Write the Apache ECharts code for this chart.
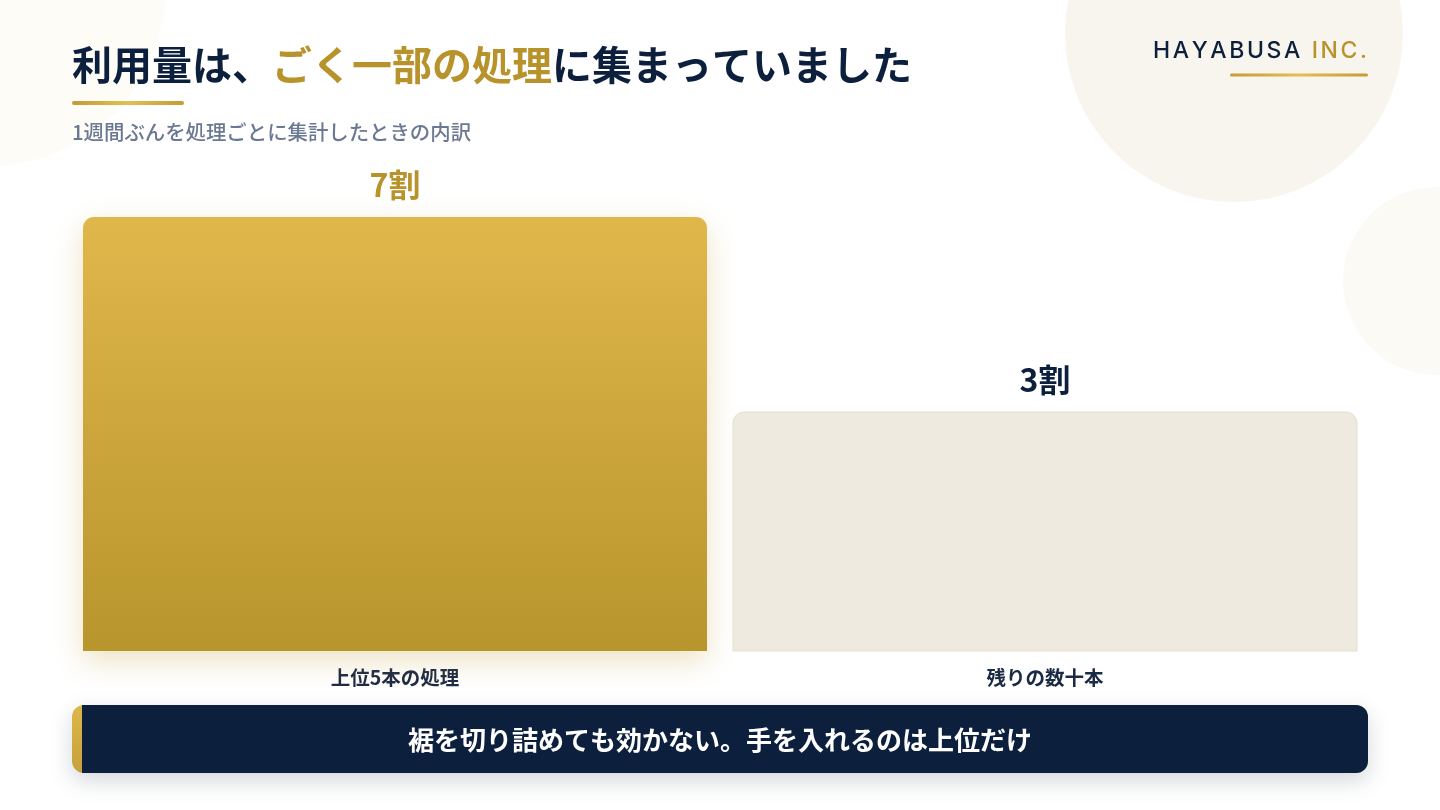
<!DOCTYPE html>
<html lang="ja">
<head>
<meta charset="utf-8">
<title>利用量の内訳</title>
<script src="https://cdn.jsdelivr.net/npm/echarts@6/dist/echarts.min.js"></script>
<style>
  html, body { margin: 0; padding: 0; background: #ffffff; }
  #chart { width: 1440px; height: 810px; }
</style>
</head>
<body>
<div id="chart"></div>
<script>
// ---- data ----
const CATEGORIES = ['上位5本の処理', '残りの数十本'];
const SHARES = [70, 30];
const SHARE_LABELS = ['7割', '3割'];
const AXIS_MIN = -19;
const AXIS_MAX = 70;

const TITLE_PARTS = ['利用量は、', 'ごく一部の処理', 'に集まっていました'];
const SUBTITLE = '1週間ぶんを処理ごとに集計したときの内訳';
const LOGO_MAIN = 'HAYABUSA';
const LOGO_SUB = 'INC.';
const BANNER = '裾を切り詰めても効かない。手を入れるのは上位だけ';

const NAVY = '#0c1f3c';
const GOLD = '#b8922b';
const JP = '"Noto Sans CJK JP", "Noto Sans", sans-serif';

const chart = echarts.init(document.getElementById('chart'), null, { renderer: 'canvas' });

// logo letters with tracking
const measureCtx = document.createElement('canvas').getContext('2d');
const LOGO_FONT = '500 23px Inter, "Noto Sans", sans-serif';
measureCtx.font = LOGO_FONT;
const TRACK = 2.6;
const logoChars = (LOGO_MAIN + ' ' + LOGO_SUB).split('');
const widths = logoChars.map(c => measureCtx.measureText(c).width);
const totalW = widths.reduce((a, b) => a + b, 0) + TRACK * (logoChars.length - 1);
let lx = 1367 - totalW;
const logoEls = [];
logoChars.forEach((c, i) => {
  if (c !== ' ') {
    logoEls.push({
      type: 'text', z: 5,
      style: {
        text: c, x: lx, y: 51, verticalAlign: 'middle', align: 'left',
        font: LOGO_FONT,
        fill: i < LOGO_MAIN.length ? NAVY : GOLD
      }
    });
  }
  lx += widths[i] + TRACK;
});

const goldLine = new echarts.graphic.LinearGradient(0, 0, 1, 0, [
  { offset: 0, color: '#c39c33' },
  { offset: 0.5, color: '#e3be52' },
  { offset: 1, color: '#c39c33' }
]);

const option = {
  backgroundColor: '#ffffff',
  animation: false,
  grid: { left: 70, right: 70, top: 217, bottom: 159 },
  xAxis: {
    type: 'category',
    data: CATEGORIES,
    axisLine: { show: false },
    axisTick: { show: false },
    axisLabel: {
      margin: 17,
      fontSize: 19.5,
      fontWeight: 700,
      color: '#1b2a44',
      fontFamily: JP
    }
  },
  yAxis: {
    type: 'value',
    min: AXIS_MIN,
    max: AXIS_MAX,
    show: false,
    splitLine: { show: false }
  },
  series: [{
    type: 'custom',
    clip: false,
    z: 3,
    data: SHARES.map((v, i) => [i, v]),
    encode: { x: 0, y: 1 },
    renderItem: function (params, api) {
      const i = params.dataIndex;
      const v = api.value(1);
      const top = api.coord([api.value(0), v]);
      const base = api.coord([api.value(0), AXIS_MIN]);
      const band = api.size([1, 0])[0];
      const w = band - 26;
      const x = top[0] - w / 2;
      const h = base[1] - top[1];
      const isTop = i === 0;
      const fill = isTop
        ? new echarts.graphic.LinearGradient(0, 0, 0, 1, [
            { offset: 0, color: '#e0b74b' },
            { offset: 1, color: '#b8952d' }
          ])
        : '#eeeadf';
      return {
        type: 'group',
        children: [
          {
            type: 'rect',
            shape: { x: x, y: top[1], width: w, height: h, r: [11, 11, 0, 0] },
            style: isTop
              ? { fill: fill, shadowBlur: 30, shadowColor: 'rgba(190,150,40,0.28)', shadowOffsetY: 10 }
              : { fill: fill, stroke: '#e5dfcd', lineWidth: 1 }
          },
          {
            type: 'text',
            style: {
              text: SHARE_LABELS[i],
              x: top[0], y: top[1] - 32,
              align: 'center', verticalAlign: 'middle',
              font: '700 32px ' + JP,
              fill: isTop ? GOLD : NAVY
            }
          }
        ]
      };
    }
  }],
  graphic: [
    // decorative circles
    { type: 'circle', z: -10, silent: true, shape: { cx: -12, cy: -12, r: 178 }, style: { fill: '#fdfcf7' } },
    { type: 'circle', z: -10, silent: true, shape: { cx: 1234, cy: 33, r: 169 }, style: { fill: '#f7f5ed' } },
    { type: 'circle', z: -10, silent: true, shape: { cx: 1437, cy: 281, r: 94 }, style: { fill: '#fbfaf4' } },
    // title
    {
      type: 'text', z: 5,
      style: {
        x: 72, y: 65, verticalAlign: 'middle', align: 'left',
        text: '{n|' + TITLE_PARTS[0] + '}{g|' + TITLE_PARTS[1] + '}{n|' + TITLE_PARTS[2] + '}',
        rich: {
          n: { fontSize: 40, fontWeight: 700, fontFamily: JP, fill: NAVY, color: NAVY },
          g: { fontSize: 40, fontWeight: 700, fontFamily: JP, fill: GOLD, color: GOLD }
        }
      }
    },
    { type: 'rect', z: 5, shape: { x: 72, y: 101, width: 112, height: 4, r: 2 }, style: { fill: goldLine } },
    {
      type: 'text', z: 5,
      style: {
        x: 72, y: 132, verticalAlign: 'middle', align: 'left',
        text: SUBTITLE,
        font: '500 20.4px ' + JP,
        fill: '#6b7891'
      }
    },
    // logo
    ...logoEls,
    { type: 'rect', z: 5, shape: { x: 1230, y: 73.5, width: 138, height: 3, r: 1.5 }, style: { fill: goldLine } },
    // banner
    {
      type: 'rect', z: 4,
      shape: { x: 72, y: 705, width: 1296, height: 68, r: 12 },
      style: {
        fill: new echarts.graphic.LinearGradient(0, 0, 0, 1, [
          { offset: 0, color: '#dcb84a' },
          { offset: 1, color: '#c6a03a' }
        ]),
        shadowBlur: 22, shadowColor: 'rgba(12,31,60,0.18)', shadowOffsetY: 8
      }
    },
    {
      type: 'rect', z: 5,
      shape: { x: 82, y: 705, width: 1286, height: 68, r: [0, 12, 12, 0] },
      style: { fill: NAVY }
    },
    {
      type: 'text', z: 6,
      style: {
        x: 720, y: 740, align: 'center', verticalAlign: 'middle',
        text: BANNER,
        font: '700 26px ' + JP,
        fill: '#ffffff'
      }
    }
  ]
};

chart.setOption(option);
</script>
</body>
</html>
